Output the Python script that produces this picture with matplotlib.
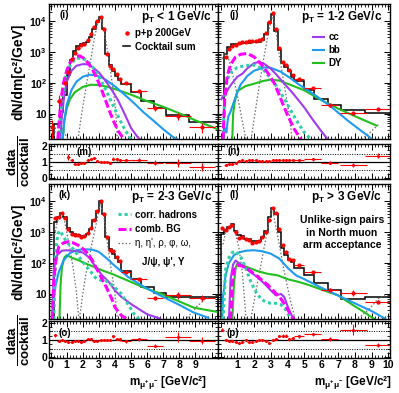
import numpy as np
import matplotlib
matplotlib.use("Agg")
import matplotlib.pyplot as plt
from matplotlib.lines import Line2D
from matplotlib.ticker import FixedLocator, FixedFormatter, MultipleLocator, LogLocator, NullFormatter

plt.rcParams['font.family'] = ['Liberation Sans', 'DejaVu Sans']
plt.rcParams['font.weight'] = 'bold'
plt.rcParams['mathtext.fontset'] = 'custom'
plt.rcParams['mathtext.rm'] = 'Liberation Sans'
plt.rcParams['mathtext.bf'] = 'Liberation Sans:bold'
plt.rcParams['mathtext.it'] = 'Liberation Sans:italic'

# cocktail histogram bin edges (GeV/c^2)
EDGES = [0.0, 0.2, 0.4, 0.6, 0.8, 1.0, 1.2, 1.4, 1.6, 1.8, 2.0, 2.2, 2.4, 2.6, 2.8,
         3.0, 3.2, 3.4, 3.6, 3.8, 4.0, 4.2, 4.4, 5.0, 5.6, 6.4, 7.2, 8.6, 10.4]
# data bin centres / half widths
MASS = [0.1, 0.3, 0.5, 0.7, 0.9, 1.1, 1.3, 1.5, 1.7, 1.9, 2.1, 2.3, 2.5, 2.7, 2.9,
        3.1, 3.3, 3.5, 3.7, 3.9, 4.1, 4.3, 4.7, 5.5, 6.5, 7.9, 9.4]
HALF_W = [0.1] * 22 + [0.3, 0.5, 0.5, 0.8, 0.8]

# cocktail sum per bin
coc_i = [0, 4.8, 4.8, 12, 40, 180, 550, 1100, 1600, 1900, 2000, 2200, 3200, 5500, 9500,
         13500, 5500, 900, 380, 240, 170, 125, 93, 50, 27, 16, 9, 5.4]
coc_j = [0, 870, 1500, 1800, 1850, 1900, 2000, 2000, 2000, 2050, 2100, 2200, 2500, 4000, 9000,
         17000, 5000, 1200, 450, 330, 240, 160, 120, 58, 31, 20, 13, 10.5]
coc_k = [0, 2200, 3200, 4200, 3000, 1400, 1000, 900, 820, 760, 760, 900, 1300, 2500, 5000,
         10000, 4000, 700, 280, 200, 150, 110, 55, 30, 17, 11, 7.8, 7.8]
coc_l = [850, 1200, 1500, 1900, 1100, 800, 750, 620, 600, 520, 500, 520, 700, 1100, 3000,
         6000, 4000, 1000, 300, 180, 130, 110, 70, 40, 22, 13, 6.9, 7.8]

# p+p data and relative errors
nan = float('nan')
data_i = [3.9, nan, 27, nan, 100, 234, 605, 935, 1360, 1750, 1900, 2420, 3840, 6710, 9980,
          13500, 5500, 880, 365, 288, 196, 138, 102, 55, 15.2, 8.6, 3.8]
err_i = [0.6, nan, 0.5, nan, 0.15, 0.12, 0.06, 0.05, 0.04, 0.04, 0.04, 0.04, 0.03, 0.03, 0.02,
         0.02, 0.03, 0.04, 0.06, 0.07, 0.08, 0.08, 0.08, 0.1, 0.15, 0.25, 0.35]
data_j = [nan, 700, 1280, 1620, 1760, 2000, 2200, 2160, 2240, 2260, 2350, 2380, 2630, 4200, 9450,
          18700, 5600, 1320, 490, 370, 264, 176, 134, 67, 19, 10.5, 14.5]
err_j = [nan, 0.06, 0.04, 0.04, 0.04, 0.03, 0.03, 0.03, 0.03, 0.03, 0.03, 0.03, 0.03, 0.03, 0.02,
         0.02, 0.03, 0.04, 0.05, 0.06, 0.06, 0.07, 0.06, 0.07, 0.1, 0.12, 0.1]
data_k = [nan, 2790, 3040, 4070, 2850, 1220, 880, 830, 780, 684, 722, 936, 1350, 2400, 4750,
          9800, 3920, 686, 274, 242, 156, 114, 50.6, 31.2, 7.3, 9.2, 7.5]
err_k = [nan, 0.06, 0.04, 0.03, 0.03, 0.04, 0.04, 0.04, 0.04, 0.04, 0.04, 0.04, 0.03, 0.03, 0.02,
         0.02, 0.03, 0.04, 0.05, 0.06, 0.07, 0.07, 0.08, 0.08, 0.12, 0.25, 0.2]
data_l = [1360, 1180, 1430, 1750, 990, 670, 675, 600, 540, 458, 475, 504, 680, 1010, 2400,
          5880, 4200, 1220, 375, 225, 135, 121, 84, 53, 13.8, 11, 5.6]
err_l = [0.05, 0.04, 0.04, 0.04, 0.04, 0.05, 0.05, 0.05, 0.05, 0.05, 0.05, 0.05, 0.04, 0.04, 0.03,
         0.02, 0.03, 0.04, 0.06, 0.07, 0.08, 0.08, 0.08, 0.08, 0.1, 0.2, 0.15]

# model curves (mass, dN/dm)
cc_i = [(0.6, 1.5), (0.7, 8), (0.85, 40), (1.0, 110), (1.3, 250), (1.6, 360), (2.0, 410), (2.3, 400),
        (2.6, 330), (3.0, 220), (3.4, 120), (3.8, 60), (4.2, 27), (4.6, 10), (5.0, 3.5), (5.4, 1.8), (5.7, 1.3)]
bb_i = [(0.75, 1.5), (0.85, 6), (1.0, 20), (1.3, 60), (1.6, 110), (2.0, 160), (2.4, 185), (2.8, 180),
        (3.2, 150), (3.6, 110), (4.0, 78), (4.6, 42), (5.2, 22), (5.8, 11), (6.4, 6), (7.0, 3.2), (7.6, 1.8), (8.0, 1.4)]
dy_i = [(0.75, 1.5), (0.85, 6), (1.0, 15), (1.2, 30), (1.5, 50), (2.0, 75), (2.5, 88), (3.0, 86),
        (3.5, 76), (4.0, 64), (5.0, 42), (6.0, 26), (7.0, 17), (8.0, 10.5), (9.0, 6.2), (10.4, 3.2)]
ch_i = [(0.5, 1.5), (0.6, 8), (0.7, 30), (0.85, 100), (1.0, 230), (1.3, 450), (1.6, 620), (1.9, 650),
        (2.2, 560), (2.5, 400), (2.8, 240), (3.1, 130), (3.4, 65), (3.7, 30), (4.0, 14), (4.3, 6.5),
        (4.6, 3.2), (4.9, 1.8), (5.2, 1.3)]
bg_i = [(0.45, 1.5), (0.55, 8), (0.65, 30), (0.8, 100), (1.0, 250), (1.2, 450), (1.5, 700), (1.8, 760),
        (2.1, 620), (2.4, 400), (2.7, 220), (3.0, 100), (3.3, 40), (3.6, 15), (3.9, 6), (4.2, 2.8), (4.6, 1.4)]
lm_i = [(0.2, 1.5), (0.3, 3.5), (0.5, 4.5), (0.7, 3.5), (0.9, 2.2), (1.1, 1.5)]
jp_i = [(1.7, 1.5), (1.9, 8), (2.1, 35), (2.3, 150), (2.5, 600), (2.7, 2500), (2.9, 7500), (3.1, 12500),
        (3.3, 6000), (3.5, 1500), (3.7, 280), (3.9, 55), (4.05, 12), (4.15, 1.5)]
up_i = []

cc_j = [(0.05, 30), (0.15, 38), (0.3, 45), (0.5, 70), (0.7, 100), (1.0, 160), (1.3, 200), (1.6, 300),
        (2.0, 440), (2.3, 480), (2.6, 420), (3.0, 290), (3.4, 170), (3.8, 95), (4.2, 55), (4.6, 30),
        (5.0, 16), (5.5, 6.5), (6.0, 2.8), (6.4, 1.5)]
bb_j = [(0.15, 1.5), (0.25, 3.5), (0.35, 2.5), (0.45, 8), (0.6, 12), (0.8, 25), (1.0, 50), (1.2, 90),
        (1.6, 170), (2.0, 250), (2.6, 320), (3.0, 310), (3.6, 230), (4.2, 140), (4.6, 95), (5.6, 42),
        (6.6, 17), (7.6, 6), (8.4, 2.8), (9.0, 1.6)]
dy_j = [(0.7, 1.5), (0.75, 10), (0.85, 25), (1.0, 55), (1.5, 80), (2.0, 95), (2.5, 115), (3.0, 130),
        (3.5, 120), (4.0, 95), (5.0, 58), (6.0, 28), (7.0, 15), (8.0, 8.5), (9.3, 4.2)]
ch_j = [(0.15, 1.5), (0.25, 40), (0.4, 130), (0.6, 220), (1.0, 320), (1.5, 370), (2.0, 380), (2.5, 290),
        (3.0, 140), (3.5, 60), (4.0, 20), (4.5, 6.5), (5.0, 2.5), (5.4, 1.5)]
bg_j = [(0.15, 1.5), (0.25, 30), (0.4, 170), (0.6, 400), (0.9, 700), (1.2, 850), (1.6, 900), (2.0, 700),
        (2.4, 420), (2.8, 220), (3.2, 100), (3.6, 30), (4.0, 9), (4.4, 3.2), (4.8, 1.5)]
lm_j = [(0.1, 600), (0.25, 950), (0.45, 700), (0.65, 280), (0.85, 95), (1.05, 30), (1.25, 8), (1.4, 3), (1.52, 1.5)]
jp_j = [(1.82, 1.5), (2.02, 8), (2.32, 90), (2.62, 870), (2.92, 6300), (3.12, 16000), (3.32, 3900),
        (3.52, 680), (3.72, 155), (3.92, 35), (4.12, 8), (4.26, 1.5)]
up_j = [(8.4, 1.5), (8.9, 2.5), (9.4, 4.5)]

cc_k = [(0.1, 1.5), (0.2, 60), (0.4, 180), (0.7, 250), (1.0, 260), (1.3, 250), (1.6, 240), (2.0, 220),
        (2.4, 150), (2.8, 75), (3.2, 40), (3.6, 25), (4.0, 13), (4.4, 8), (5.0, 4.7), (6.0, 2.2), (6.8, 1.6)]
bb_k = [(0.1, 1.5), (0.2, 6), (0.3, 18), (0.5, 50), (0.8, 120), (1.2, 210), (1.6, 260), (2.1, 280),
        (2.6, 270), (3.0, 230), (3.5, 140), (4.0, 80), (4.8, 36), (5.8, 17), (6.8, 9), (7.9, 4.7),
        (8.9, 2.5), (9.8, 1.7)]
dy_k = [(0.55, 1.5), (0.62, 20), (0.7, 70), (0.85, 150), (1.0, 180), (1.3, 150), (1.7, 125), (2.2, 95),
        (2.7, 75), (3.2, 58), (3.8, 45), (4.8, 27), (5.8, 16), (6.9, 10), (7.9, 6), (8.9, 3.6), (10.4, 2.6)]
ch_k = [(0.2, 1.5), (0.3, 200), (0.45, 900), (0.6, 1100), (0.8, 700), (1.0, 480), (1.3, 330), (1.6, 210),
        (1.9, 125), (2.2, 80), (2.5, 52), (2.8, 33), (3.1, 28), (3.4, 27), (3.7, 22), (4.0, 16), (4.4, 10),
        (4.8, 4.7), (5.2, 2.2), (5.5, 1.5)]
bg_k = [(0.1, 1.5), (0.2, 30), (0.35, 150), (0.5, 330), (0.8, 450), (1.1, 490), (1.4, 450), (1.7, 380),
        (2.0, 290), (2.3, 210), (2.6, 120), (2.9, 60), (3.2, 30), (3.5, 15), (3.8, 7), (4.0, 3.7),
        (4.4, 2), (4.8, 1.5)]
lm_k = [(0.25, 800), (0.4, 2000), (0.55, 3500), (0.7, 4000), (0.85, 2500), (1.0, 1000), (1.2, 300),
        (1.4, 70), (1.6, 12), (1.75, 1.6)]
jp_k = [(1.8, 1.7), (2.0, 10), (2.2, 46), (2.53, 340), (2.84, 1950), (3.1, 9000), (3.35, 2500),
        (3.56, 340), (3.77, 58), (3.98, 12.6), (4.14, 1.7)]
up_k = [(8.5, 1.7), (9.1, 4), (9.77, 8)]

cc_l = [(0.5, 1.5), (0.6, 30), (0.75, 90), (0.9, 120), (1.1, 100), (1.4, 75), (1.8, 50), (2.2, 35),
        (2.6, 22), (3.0, 13), (3.3, 9), (3.6, 10), (3.8, 8), (4.0, 4), (4.2, 2.2), (4.4, 1.5)]
bb_l = [(0.1, 1.5), (0.15, 8), (0.3, 40), (0.5, 100), (0.8, 180), (1.1, 220), (1.5, 250), (2.0, 260),
        (2.5, 240), (3.0, 200), (3.5, 140), (4.0, 70), (4.5, 40), (5.0, 30), (6.0, 16), (7.0, 9),
        (8.0, 5), (9.0, 2.8), (9.8, 1.6)]
dy_l = [(0.7, 1.5), (0.8, 20), (0.9, 70), (1.0, 95), (1.3, 85), (1.7, 70), (2.2, 55), (2.8, 45),
        (3.4, 40), (4.0, 30), (4.6, 25), (5.2, 20), (6.0, 14), (7.0, 9), (8.0, 4), (8.6, 2.5), (9.2, 1.5)]
ch_l = [(0.15, 1.5), (0.3, 60), (0.5, 150), (0.7, 220), (0.9, 240), (1.2, 160), (1.5, 70), (1.8, 25),
        (2.1, 12), (2.4, 7), (2.7, 5.5), (3.0, 5), (3.3, 5), (3.6, 4.5), (3.9, 3), (4.2, 1.5)]
bg_l = [(0.6, 1.5), (0.7, 20), (0.8, 60), (1.0, 85), (1.3, 80), (1.6, 65), (2.0, 45), (2.4, 30),
        (2.8, 20), (3.2, 12), (3.6, 7), (3.9, 4), (4.2, 2), (4.4, 1.5)]
lm_l = [(0.15, 400), (0.3, 1000), (0.5, 1600), (0.7, 1900), (0.9, 900), (1.1, 300), (1.3, 50), (1.52, 1.6)]
jp_l = [(1.82, 1.7), (2.12, 13), (2.42, 95), (2.72, 700), (3.02, 5400), (3.1, 6000), (3.22, 2500),
        (3.52, 340), (3.82, 46), (4.12, 7.8), (4.42, 1.7)]
up_l = [(8.2, 1.6), (8.8, 3), (9.4, 7), (9.8, 9)]

PT_LABELS = [r'$\mathbf{p_{T}}$ < 1 GeV/c', r'$\mathbf{p_{T}}$ = 1-2 GeV/c',
             r'$\mathbf{p_{T}}$ = 2-3 GeV/c', r'$\mathbf{p_{T}}$ > 3 GeV/c']

C_CC = '#a03cf0'
C_BB = '#1e9bf0'
C_DY = '#22c01e'
C_CH = '#2ecfa8'
C_BG = '#ff00ff'
C_RES = '#6e6e6e'

W, H = 399, 393
fig = plt.figure(figsize=(W / 100, H / 100), dpi=100)


def add_px(x0, y0, x1, y1):
    return fig.add_axes([x0 / W, 1 - y1 / H, (x1 - x0) / W, (y1 - y0) / H])


def frame(ax):
    ax.tick_params(which='both', direction='in', top=True, right=True, labelsize=7.5, pad=1.5)
    ax.tick_params(which='major', length=4, width=0.7)
    ax.tick_params(which='minor', length=2, width=0.6)
    ax.xaxis.set_major_locator(MultipleLocator(1))
    ax.xaxis.set_minor_locator(MultipleLocator(0.2))
    for s in ax.spines.values():
        s.set_linewidth(1.0)


def curve(ax, pts, **kw):
    if len(pts) == 0:
        return
    m, y = np.array(pts).T
    ax.plot(m, y, **kw)


def main_panel(ax, coc, dat, err, cc, bb, dy, ch, bg, lm, jp, up, xlim, left):
    ax.set_yscale('log')
    for pts in (lm, jp, up):
        curve(ax, pts, color=C_RES, lw=0.9, ls=(0, (1.2, 1.6)))
    curve(ax, dy, color=C_DY, lw=1.5)
    curve(ax, bb, color=C_BB, lw=1.5)
    curve(ax, cc, color=C_CC, lw=1.5)
    curve(ax, ch, color=C_CH, lw=2.2, ls=(0, (1.0, 1.0)))
    curve(ax, bg, color=C_BG, lw=2.2, ls=(0, (2.6, 1.0)))
    ax.stairs(coc, EDGES, baseline=0, color='black', lw=1.1)
    d = np.array(dat, dtype=float)
    e = np.array(err, dtype=float) * d
    ax.errorbar(MASS, d, xerr=HALF_W, yerr=e, fmt='o', ms=2.0, color='red',
                elinewidth=0.8, capsize=0)
    ax.set_xlim(*xlim)
    ax.set_ylim(1.55, 3.6e4)
    frame(ax)
    ax.yaxis.set_major_locator(FixedLocator([10, 100, 1000, 10000]))
    ax.yaxis.set_major_formatter(FixedFormatter(['10', r'$\mathbf{10^{2}}$',
                                                 r'$\mathbf{10^{3}}$', r'$\mathbf{10^{4}}$']))
    ax.yaxis.set_minor_locator(LogLocator(base=10, subs=np.arange(2, 10)))
    ax.yaxis.set_minor_formatter(NullFormatter())
    ax.tick_params(labelbottom=False, labelleft=left)


def ratio_panel(ax, coc, dat, err, xlim, left, bottom):
    coc = np.array(coc, dtype=float)
    idx = np.searchsorted(EDGES, MASS) - 1
    c = coc[idx]
    d = np.array(dat, dtype=float)
    with np.errstate(divide='ignore', invalid='ignore'):
        r = np.where(c > 0, d / c, np.nan)
    ax.axhline(1, color='black', lw=0.9)
    ax.axhline(0.5, color='black', lw=0.7, ls=(0, (1, 1.5)))
    ax.axhline(1.5, color='black', lw=0.7, ls=(0, (1, 1.5)))
    ax.errorbar(MASS, r, xerr=HALF_W, yerr=np.array(err) * r, fmt='o', ms=1.2,
                color='red', elinewidth=0.8, capsize=0)
    ax.set_xlim(*xlim)
    ax.set_ylim(-0.05, 2.1)
    frame(ax)
    ax.yaxis.set_major_locator(FixedLocator([0, 1, 2]))
    ax.yaxis.set_minor_locator(MultipleLocator(0.25))
    ax.tick_params(labelleft=left, labelbottom=bottom)
    if bottom:
        ax.set_xticks(range(0, 11))
        if left:
            ax.set_xticklabels([str(v) for v in range(0, 10)] + [''])
        else:
            ax.set_xticklabels([''] + [str(v) for v in range(1, 11)])


XL = (-0.1, 10.4)
XR = (-0.15, 10.1)

ax_i = add_px(49, 4, 218, 139)
ax_j = add_px(218, 4, 390, 139)
ax_m = add_px(49, 144, 218, 179)
ax_n = add_px(218, 144, 390, 179)
ax_k = add_px(49, 184, 218, 319)
ax_l = add_px(218, 184, 390, 319)
ax_o = add_px(49, 321, 218, 358)
ax_p = add_px(218, 321, 390, 358)

main_panel(ax_i, coc_i, data_i, err_i, cc_i, bb_i, dy_i, ch_i, bg_i, lm_i, jp_i, up_i, XL, True)
main_panel(ax_j, coc_j, data_j, err_j, cc_j, bb_j, dy_j, ch_j, bg_j, lm_j, jp_j, up_j, XR, False)
main_panel(ax_k, coc_k, data_k, err_k, cc_k, bb_k, dy_k, ch_k, bg_k, lm_k, jp_k, up_k, XL, True)
main_panel(ax_l, coc_l, data_l, err_l, cc_l, bb_l, dy_l, ch_l, bg_l, lm_l, jp_l, up_l, XR, False)
ratio_panel(ax_m, coc_i, data_i, err_i, XL, True, False)
ratio_panel(ax_n, coc_j, data_j, err_j, XR, False, False)
ratio_panel(ax_o, coc_k, data_k, err_k, XL, True, True)
ratio_panel(ax_p, coc_l, data_l, err_l, XR, False, True)

# panel tags and pT labels
for ax, tag, lab, tx in [(ax_i, '(i)', PT_LABELS[0], 0.965), (ax_j, '(j)', PT_LABELS[1], 0.953),
                         (ax_k, '(k)', PT_LABELS[2], 0.965), (ax_l, '(l)', PT_LABELS[3], 0.953)]:
    ax.text(0.093, 0.915, tag, transform=ax.transAxes, ha='center', va='center', fontsize=7)
    ax.text(tx, 0.905, lab, transform=ax.transAxes, ha='right', va='center', fontsize=8.5)

ax_m.text(0.207, 0.78, '(m)', transform=ax_m.transAxes, ha='center', va='center', fontsize=7)
ax_n.text(0.093, 0.8, '(n)', transform=ax_n.transAxes, ha='center', va='center', fontsize=7)
ax_o.text(0.095, 0.68, '(o)', transform=ax_o.transAxes, ha='center', va='center', fontsize=7)
ax_p.text(0.087, 0.68, '(p)', transform=ax_p.transAxes, ha='center', va='center', fontsize=7)

# legends
leg = ax_i.legend([Line2D([], [], marker='o', ls='none', color='red', ms=2.2),
                   Line2D([], [], color='black', lw=1.1)],
                  ['p+p 200GeV', 'Cocktail sum'], loc='upper left', bbox_to_anchor=(0.44, 0.82),
                  frameon=False, fontsize=7, handlelength=0.7, handletextpad=0.5,
                  labelspacing=0.35, borderaxespad=0, borderpad=0)
ax_j.legend([Line2D([], [], color=C_CC, lw=1.5), Line2D([], [], color=C_BB, lw=1.5),
             Line2D([], [], color=C_DY, lw=1.5)], ['cc', 'bb', 'DY'],
            loc='upper left', bbox_to_anchor=(0.55, 0.79), frameon=False, fontsize=7,
            handlelength=1.2, handletextpad=0.4, labelspacing=0.3, borderaxespad=0, borderpad=0)
leg_k = ax_k.legend([Line2D([], [], color=C_CH, lw=2.2, ls=(0, (1.0, 1.0))),
                     Line2D([], [], color=C_BG, lw=2.2, ls=(0, (2.6, 1.0))),
                     Line2D([], [], color=C_RES, lw=0.9, ls=(0, (1.2, 1.6)))],
                    ['corr. hadrons', 'comb. BG', "η, η', ρ, φ, ω,"],
                    loc='upper left', bbox_to_anchor=(0.41, 0.81), frameon=False, fontsize=7,
                    handlelength=1.3, handletextpad=0.4, labelspacing=0.45, borderaxespad=0, borderpad=0)
leg_k.get_texts()[2].set_fontweight('normal')
ax_k.text(0.55, 0.42, "J/ψ, ψ', Υ", transform=ax_k.transAxes, ha='left', va='center', fontsize=7)
ax_l.text(0.72, 0.64, 'Unlike-sign pairs\nin North muon\narm acceptance', transform=ax_l.transAxes,
          ha='center', va='center', fontsize=7.5, linespacing=1.3)

# axis titles
for yc in (72, 252):
    fig.text(18 / W, 1 - yc / H, 'dN/dm[c²/GeV]', rotation=90, ha='center', va='center', fontsize=10)
for yc in (161, 340):
    fig.text(19 / W, 1 - yc / H, r'$\dfrac{\mathbf{data}}{\mathbf{cocktail}}$', rotation=90,
             ha='center', va='center', fontsize=9.5)
xlab = r'm$_{\mathbf{\mu^{+}\mu^{-}}}$ [GeV/c²]'
fig.text(207 / W, 1 - 382 / H, xlab, ha='right', va='center', fontsize=8.5)
fig.text(392 / W, 1 - 382 / H, xlab, ha='right', va='center', fontsize=8.5)

fig.savefig('out.png', dpi=100)
